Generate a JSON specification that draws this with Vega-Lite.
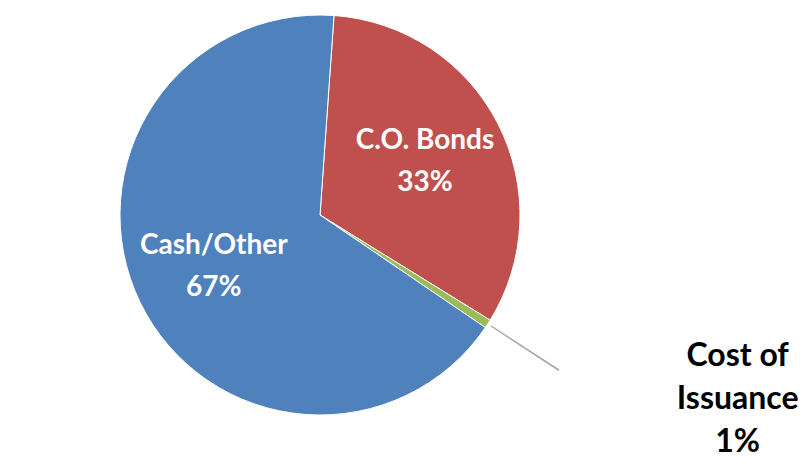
{
  "$schema": "https://vega.github.io/schema/vega-lite/v6.json",
  "width": 640,
  "height": 430,
  "autosize": {"type": "none"},
  "padding": {"left": 0, "top": 0, "right": 166, "bottom": 36},
  "background": "white",
  "view": {"stroke": null},
  "datasets": {
    "slices": [
      {"segment": "C.O. Bonds", "share": 32.7, "order": 1, "label": "C.O. Bonds\n33%"},
      {"segment": "Cost of Issuance", "share": 0.7, "order": 2, "label": "Cost of\nIssuance\n1%"},
      {"segment": "Cash/Other", "share": 66.6, "order": 3, "label": "Cash/Other\n67%"}
    ],
    "leader": [
      {"part": "before", "share": 33.0, "order": 1},
      {"part": "leader", "share": 0.1, "order": 2},
      {"part": "after", "share": 66.9, "order": 3}
    ]
  },
  "layer": [
    {
      "data": {"name": "slices"},
      "mark": {"type": "arc", "outerRadius": 200, "stroke": "white", "strokeWidth": 1},
      "encoding": {
        "theta": {"field": "share", "type": "quantitative", "stack": true, "scale": {"range": [0.07, 6.3532]}},
        "order": {"field": "order", "type": "quantitative"},
        "color": {
          "field": "segment", "type": "nominal", "legend": null,
          "scale": {"domain": ["C.O. Bonds", "Cost of Issuance", "Cash/Other"], "range": ["#C0504D", "#9BBB59", "#4F81BD"]}
        }
      }
    },
    {
      "data": {"name": "leader"},
      "mark": {"type": "arc", "radius": 204, "radius2": 285, "color": "#A6A6A6"},
      "encoding": {
        "theta": {"field": "share", "type": "quantitative", "stack": true},
        "order": {"field": "order", "type": "quantitative"},
        "opacity": {"condition": {"test": "datum.part === 'leader'", "value": 1}, "value": 0}
      }
    },
    {
      "data": {"name": "slices"},
      "mark": {"type": "text", "radius": 118, "dy": -20, "fontSize": 28, "font": "Lato", "fontWeight": "bold", "color": "white", "lineBreak": "\n", "lineHeight": 42, "baseline": "middle", "align": "center"},
      "encoding": {
        "theta": {"field": "share", "type": "quantitative", "stack": true},
        "order": {"field": "order", "type": "quantitative"},
        "text": {"condition": {"test": "datum.segment === 'Cost of Issuance'", "value": ""}, "field": "label"}
      }
    },
    {
      "data": {"name": "slices"},
      "mark": {"type": "text", "radius": 300, "dx": 166, "dy": -22, "fontSize": 32, "font": "Lato", "fontWeight": "bold", "color": "black", "lineBreak": "\n", "lineHeight": 43, "baseline": "middle", "align": "center"},
      "encoding": {
        "theta": {"field": "share", "type": "quantitative", "stack": true},
        "order": {"field": "order", "type": "quantitative"},
        "text": {"condition": {"test": "datum.segment === 'Cost of Issuance'", "field": "label"}, "value": ""}
      }
    }
  ]
}
